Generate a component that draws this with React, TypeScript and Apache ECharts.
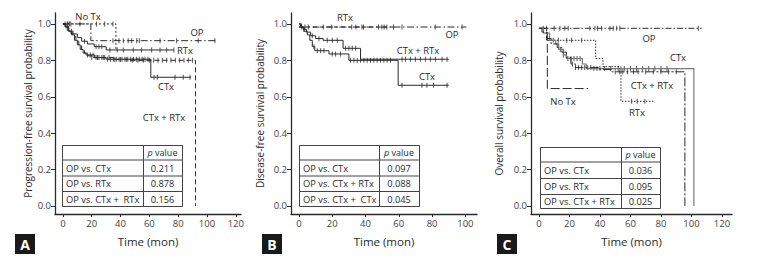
import React, { useEffect, useRef } from "react";
import * as echarts from "echarts";

const FONT = '"Open Sans", "Noto Sans", sans-serif';
const INK = "#2a2a2a";

// ---------- tick labels ----------
const X_TICKS_AC = [0, 20, 40, 60, 80, 100, 120];
const X_TICKS_B = [0, 20, 40, 60, 80, 100];
const Y_TICKS = [0, 0.2, 0.4, 0.6, 0.8, 1.0];

// ---------- Panel A: progression-free survival ([time, survival] steps) ----------
const A_OP = [[0, 1], [19.4, 0.908], [106, 0.908]];
const A_OP_CENS = [3.5, 5.5, 34.7, 38.9, 41.9, 45.3, 47.7, 51.2, 53, 67.4, 78.9, 93.9, 105.5];
const A_NOTX = [[0, 1], [36.8, 0.857]];
const A_NOTX_CENS = [1.5, 3, 4.5, 11.8, 23.4, 29, 34.7];
const A_RTX = [[0, 1], [2, 0.98], [4, 0.96], [7, 0.945], [10, 0.925], [13, 0.905], [17, 0.89], [21.7, 0.875], [30, 0.857], [77, 0.857]];
const A_RTX_CENS = [6, 15, 23, 25, 27, 32.6, 37.7, 41.9, 48.8, 54.6, 61.6, 67.4, 72, 77];
const A_CTX = [[0, 1], [2, 0.985], [4, 0.96], [6, 0.94], [8, 0.91], [10, 0.885], [12, 0.86], [14, 0.84], [16, 0.83], [22, 0.815], [30, 0.806], [61, 0.707], [89, 0.707]];
const A_CTX_CENS = [17, 19, 21, 23, 25, 27, 29, 31, 33, 35, 37, 39, 41, 43, 45, 47, 49, 51, 53, 55, 57, 59, 63.2, 65.5, 77.8, 83.5, 88.2];
const A_CTXRTX = [[0, 1], [1.5, 0.98], [3, 0.965], [5, 0.95], [7, 0.93], [9, 0.905], [11, 0.88], [13, 0.86], [15, 0.84], [17, 0.825], [20, 0.815], [35, 0.805], [45, 0.8], [92, 0]];
const A_CTXRTX_CENS = [20, 24, 28, 32, 36, 40, 44, 48, 52, 56, 60, 63, 66, 69, 72, 75, 78, 81, 84, 87, 90];

// ---------- Panel B: disease-free survival ----------
const B_OP = [[0, 0.983], [100.6, 0.983]];
const B_OP_CENS = [1.6, 3.6, 14.6, 31.7, 37.8, 47.8, 51.2, 56.8, 61.9, 81.9, 98];
const B_RTX = [[0, 0.983], [57, 0.983]];
const B_RTX_CENS = [5.6, 19.7, 34.2, 38.8, 49.8, 52.8];
const B_CTXRTX = [[0, 1], [1, 0.985], [2.5, 0.97], [4.5, 0.955], [7, 0.935], [10, 0.92], [14.5, 0.91], [26.5, 0.866], [37, 0.806], [90, 0.806]];
const B_CTXRTX_CENS = [3, 8, 12, 17, 20, 23, 28, 30, 32, 34, 62, 64, 67, 70, 73, 76, 79, 82, 86, 89];
const B_CTX = [[0, 1], [1.5, 0.98], [3, 0.96], [5, 0.94], [6.5, 0.91], [8, 0.875], [9.5, 0.853], [18, 0.835], [30, 0.8], [59.6, 0.663], [90, 0.663]];
const B_CTX_CENS = [9, 11, 13, 15, 20, 22, 25, 31, 33, 35, 37, 39, 41, 43, 45, 47, 49, 51, 53, 55, 61.9, 73.9, 76.9, 80.9, 89];

// ---------- Panel C: overall survival ----------
const C_OP = [[0, 0.976], [106.7, 0.976]];
const C_OP_CENS = [2.8, 5, 10, 13.8, 17, 19.2, 33.4, 36.7, 38.5, 41.1, 46.6, 48.7, 51, 53.1, 104.5];
const C_NOTX = [[0, 0.976], [5.5, 0.645], [32.3, 0.645]];
const C_RTX = [[0, 0.976], [5, 0.91], [37.2, 0.81], [42, 0.765], [53.8, 0.575], [76, 0.575]];
const C_RTX_CENS = [9.4, 12.7, 18.2, 21.4, 28, 60.8, 64.4, 69.5];
const C_CTX = [[0, 0.976], [3, 0.95], [7, 0.91], [11, 0.89], [13, 0.86], [16, 0.83], [18, 0.81], [28.5, 0.78], [31, 0.755], [101.6, 0]];
const C_CTX_CENS = [14, 16, 19, 21, 23, 25, 27, 36, 38, 40, 43, 47, 52, 56, 60, 64, 68, 72, 76, 80, 84];
const C_CTXRTX = [[0, 0.976], [2, 0.955], [5, 0.92], [8, 0.89], [12, 0.87], [15, 0.845], [18, 0.815], [21, 0.78], [24, 0.76], [40, 0.75], [48, 0.737], [95.7, 0]];
const C_CTXRTX_CENS = [22, 24, 26, 28, 30, 32, 34, 50, 53, 55, 58, 62, 65, 70, 75, 80, 85, 90];

// ---------- tables ----------
const A_ROWS = [["OP vs. CTx", "0.211"], ["OP vs. RTx", "0.878"], ["OP vs. CTx +  RTx", "0.156"]];
const B_ROWS = [["OP vs. CTx", "0.097"], ["OP vs. CTx + RTx", "0.088"], ["OP vs. CTx +  CTx", "0.045"]];
const C_ROWS = [["OP vs. CTx", "0.036"], ["OP vs. RTx", "0.095"], ["OP vs. CTx + RTx", "0.025"]];

function survAt(curve: number[][], t: number) {
  let s = curve[0][1];
  for (const p of curve) if (p[0] <= t) s = p[1];
  return s;
}

function stepLine(gi: number, data: number[][], dash: any, color = INK, width = 1) {
  return {
    type: "line", xAxisIndex: gi, yAxisIndex: gi, step: "end", data,
    showSymbol: false, symbol: "none", silent: true,
    lineStyle: { color, width, type: dash },
  };
}
function censors(gi: number, curve: number[][], times: number[], color = INK) {
  return {
    type: "scatter", xAxisIndex: gi, yAxisIndex: gi, silent: true,
    data: times.map((t) => [t, survAt(curve, t)]),
    symbol: "rect", symbolSize: [1, 5],
    itemStyle: { color },
  };
}

function xAx(gi: number, min: number, max: number, ticks: number[]) {
  return {
    type: "value", gridIndex: gi, min, max,
    name: "Time (mon)", nameLocation: "middle", nameGap: 21,
    nameTextStyle: { fontFamily: FONT, fontSize: 11.5, color: INK },
    axisLine: { show: true, onZero: false, lineStyle: { color: INK, width: 1.3 } },
    axisTick: { show: true, length: 3, customValues: ticks, lineStyle: { color: INK } },
    axisLabel: { customValues: ticks, fontFamily: FONT, fontSize: 9.5, color: "#444", margin: 4 },
    splitLine: { show: false },
  };
}
function yAx(gi: number, name: string, gap: number) {
  return {
    type: "value", gridIndex: gi, min: -0.044, max: 1.06,
    name, nameLocation: "middle", nameGap: gap,
    nameTextStyle: { fontFamily: FONT, fontSize: 10, color: INK },
    axisLine: { show: true, onZero: false, lineStyle: { color: INK, width: 1.3 } },
    axisTick: { show: true, length: 4, customValues: Y_TICKS, lineStyle: { color: INK } },
    axisLabel: { customValues: Y_TICKS, formatter: (v: number) => v.toFixed(1), fontFamily: FONT, fontSize: 9.5, color: "#444", margin: 4 },
    splitLine: { show: false },
  };
}

function txt(x: number, y: number, text: string, size = 9.5, align = "center") {
  return {
    type: "text", x, y, z: 120,
    style: { text, fontFamily: FONT, fontSize: size, fill: INK, align, verticalAlign: "middle", textAlign: align, textVerticalAlign: "middle" },
  };
}

function table(left: number, right: number, col: number, ys: number[], rows: string[][]) {
  const els: any[] = [];
  const top = ys[0], bot = ys[ys.length - 1];
  els.push({ type: "rect", z: 100, shape: { x: left + 0.5, y: top + 0.5, width: right - left, height: bot - top }, style: { fill: "#fff", stroke: "#444", lineWidth: 1 } });
  for (let i = 1; i < ys.length - 1; i++) {
    els.push({ type: "line", z: 101, shape: { x1: left, y1: ys[i] + 0.5, x2: right, y2: ys[i] + 0.5 }, style: { stroke: "#444", lineWidth: 1 } });
  }
  els.push({ type: "line", z: 101, shape: { x1: col + 0.5, y1: top, x2: col + 0.5, y2: bot }, style: { stroke: "#444", lineWidth: 1 } });
  const vx = (col + right) / 2;
  els.push({
    type: "text", x: vx, y: (ys[0] + ys[1]) / 2 + 0.5, z: 110,
    style: {
      text: "{i|p} value", fontFamily: FONT, fontSize: 9, fill: INK, align: "center", verticalAlign: "middle", textAlign: "center", textVerticalAlign: "middle",
      rich: { i: { fontStyle: "italic", fontFamily: FONT, fontSize: 9, fill: INK } },
    },
  });
  rows.forEach((r, i) => {
    const cy = (ys[i + 1] + ys[i + 2]) / 2 + 0.5;
    els.push(txt(left + 4, cy, r[0], 9.3, "left"));
    els.push(txt(vx, cy, r[1], 9.3, "center"));
  });
  return els;
}

function letterBox(x: number, y: number, letter: string) {
  return [
    { type: "rect", z: 100, shape: { x, y, width: 20, height: 20 }, style: { fill: "#1a1a1a" } },
    { type: "text", x: x + 10, y: y + 10.5, z: 101, style: { text: letter, fontFamily: FONT, fontWeight: "bold", fontSize: 14, fill: "#fff", align: "center", verticalAlign: "middle", textAlign: "center", textVerticalAlign: "middle" } },
  ];
}

export default function App() {
  const ref = useRef<HTMLDivElement>(null);
  useEffect(() => {
    if (!ref.current) return;
    const chart = echarts.init(ref.current, undefined, { renderer: "svg" });
    const DASHDOT = [7, 2.5, 1.5, 2.5];
    const option: any = {
      animation: false,
      backgroundColor: "#fff",
      grid: [
        { left: 55, top: 13, width: 186, height: 201 },
        { left: 291, top: 13, width: 186, height: 201 },
        { left: 531, top: 13, width: 201, height: 201 },
      ],
      xAxis: [xAx(0, -5.5, 123.6, X_TICKS_AC), xAx(1, -4.8, 107, X_TICKS_B), xAx(2, -5.2, 126.6, X_TICKS_AC)],
      yAxis: [
        yAx(0, "Progression-free survival probability", 22),
        yAx(1, "Disease-free survival probability", 26),
        yAx(2, "Overall survival probability", 27),
      ],
      series: [
        // A
        stepLine(0, A_OP, DASHDOT),
        censors(0, A_OP, A_OP_CENS),
        stepLine(0, A_NOTX, [2, 2]),
        censors(0, A_NOTX, A_NOTX_CENS),
        stepLine(0, A_RTX, "solid"),
        censors(0, A_RTX, A_RTX_CENS),
        stepLine(0, A_CTX, "solid"),
        censors(0, A_CTX, A_CTX_CENS),
        stepLine(0, A_CTXRTX, [5, 3]),
        censors(0, A_CTXRTX, A_CTXRTX_CENS),
        // B
        stepLine(1, B_OP, DASHDOT),
        censors(1, B_OP, B_OP_CENS),
        stepLine(1, B_RTX, [4, 3]),
        censors(1, B_RTX, B_RTX_CENS),
        stepLine(1, B_CTXRTX, "solid"),
        censors(1, B_CTXRTX, B_CTXRTX_CENS),
        stepLine(1, B_CTX, "solid"),
        censors(1, B_CTX, B_CTX_CENS),
        // C
        stepLine(2, C_OP, [6, 2, 1.5, 2]),
        censors(2, C_OP, C_OP_CENS),
        stepLine(2, C_NOTX, [9, 3]),
        stepLine(2, C_RTX, [1.5, 1.5]),
        censors(2, C_RTX, C_RTX_CENS),
        stepLine(2, C_CTX, "solid", "#777", 1.2),
        censors(2, C_CTX, C_CTX_CENS),
        stepLine(2, C_CTXRTX, [9, 2, 2, 2]),
        censors(2, C_CTXRTX, C_CTXRTX_CENS),
      ],
      graphic: [
        // curve labels A
        txt(88, 16, "No Tx"), txt(197, 32, "OP"), txt(177, 50, "RTx", 9.5, "left"), txt(166, 86, "CTx"), txt(164, 117, "CTx + RTx"),
        // curve labels B
        txt(345, 17, "RTx"), txt(452, 34, "OP"), txt(418, 50, "CTx + RTx"), txt(427, 76, "CTx"),
        // curve labels C
        txt(649, 38, "OP"), txt(678, 57, "CTx"), txt(652, 85, "CTx + RTx"), txt(563, 101, "No Tx"), txt(637, 112, "RTx"),
        ...table(62, 182, 143, [145, 159.5, 175.5, 191, 206], A_ROWS),
        ...table(299, 419, 379, [145, 159.5, 175.5, 191, 206], B_ROWS),
        ...table(540, 660, 621, [147, 161.5, 178, 194, 208], C_ROWS),
        ...letterBox(15, 234, "A"),
        ...letterBox(262, 234, "B"),
        ...letterBox(497, 234, "C"),
      ],
    };
    chart.setOption(option);
    return () => chart.dispose();
  }, []);
  return <div ref={ref} style={{ position: "fixed", left: 0, top: 0, width: 762, height: 269, background: "#fff" }} />;
}
